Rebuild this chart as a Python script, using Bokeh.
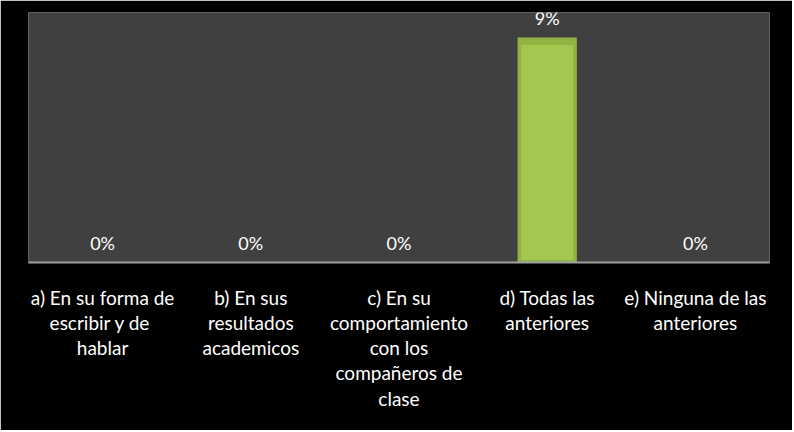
from bokeh.plotting import figure
from bokeh.models import ColumnDataSource, LabelSet, FactorRange
from bokeh.core.properties import value
from bokeh.embed import file_html
from bokeh.resources import INLINE

# ---- data ----
categories = [
    "a) En su forma de\nescribir  y de\nhablar",
    "b) En sus\nresultados\nacademicos",
    "c) En su\ncomportamiento\ncon los\ncompañeros de\nclase",
    "d) Todas las\nanteriores",
    "e) Ninguna de las\nanteriores",
]
values = [0, 0, 0, 9, 0]
value_labels = ["0%", "0%", "0%", "9%", "0%"]
y_max = 10

FONT = "Lato"

src = ColumnDataSource(dict(
    cat=categories,
    val=values,
    lab=value_labels,
    inner_top=[max(v - 0.3, 0) for v in values],
    inner_bot=[0.1 if v > 0 else 0 for v in values],
))

p = figure(
    x_range=FactorRange(*categories),
    y_range=(0, y_max),
    width=792, height=430,
    output_backend="svg", toolbar_location=None,
    min_border_left=28, min_border_right=23,
    min_border_top=12, min_border_bottom=168,
)
p.background_fill_color = "#404040"
p.border_fill_color = "black"
p.outline_line_color = None
p.xgrid.grid_line_color = None
p.ygrid.grid_line_color = None
p.yaxis.visible = False

# bars: bevelled look via layered vbars
p.vbar(x="cat", top="val", width=0.40, source=src,
       fill_color="#90b342", line_color=None)
p.vbar(x="cat", top="inner_top", bottom="inner_bot", width=0.35, source=src,
       fill_color="#a3c74f", line_color=None)

labels = LabelSet(x="cat", y="val", text="lab", source=src,
                  text_align="center", text_baseline="alphabetic",
                  y_offset=13, text_color="white",
                  text_font=value(FONT), text_font_size=value("18px"))
p.add_layout(labels)

ax = p.xaxis[0]
ax.axis_line_color = "#a0a0a0"
ax.axis_line_width = 2
ax.major_tick_line_color = None
ax.minor_tick_line_color = None
ax.major_label_text_color = "white"
ax.major_label_text_font = FONT
ax.major_label_text_font_size = "19px"
ax.major_label_text_line_height = 1.1
ax.major_label_standoff = 17
ax.major_label_orientation = "horizontal"

open("out.html", "w").write(file_html(p, INLINE))
